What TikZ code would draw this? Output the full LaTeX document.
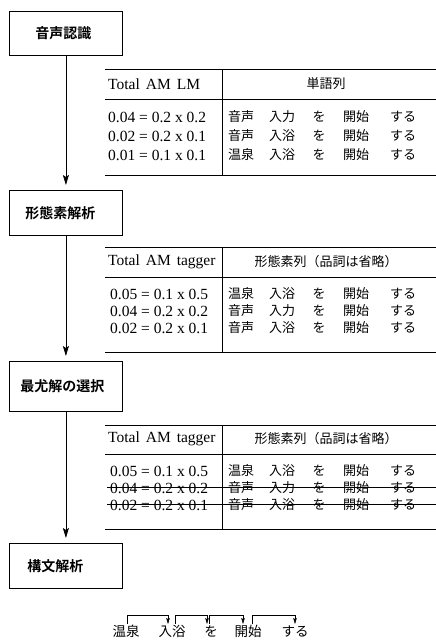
\documentclass[tikz,border=0pt]{standalone}
\usepackage{fontspec}
\setmainfont{Liberation Serif}
\newfontfamily\jp{Noto Sans CJK JP}
\newfontfamily\jpb{Noto Sans CJK JP Bold}
\usetikzlibrary{arrows.meta}
\newcommand\wrow[7]{%
  \node[jpt] (#1a) at (241,#2) {#3};
  \node[jpt] (#1b) at (282,#2) {#4};
  \node[jpt] (#1c) at (319,#2) {#5};
  \node[jpt] (#1d) at (356,#2) {#6};
  \node[jpt] (#1e) at (403,#2) {#7};}
\begin{document}
\begin{tikzpicture}[x=1pt,y=-1pt,
  box/.style={draw, line width=0.8pt, minimum width=113pt, align=left, anchor=north west,
    font=\jpb\fontsize{14}{16}\selectfont, inner ysep=0pt},
  flow/.style={line width=0.7pt, -{Stealth[length=10pt,width=6pt,inset=2pt]}},
  rule/.style={line width=0.7pt},
  strike/.style={line width=0.6pt},
  lat/.style={anchor=west, inner sep=0pt, font=\fontsize{15.5}{17}\selectfont},
  jpt/.style={inner sep=0pt, font=\jp\fontsize{13}{15}\selectfont, text height=11pt, text depth=2pt},
  jpw/.style={inner sep=0pt, font=\jp\fontsize{13.5}{15}\selectfont, text height=11pt, text depth=2.5pt},
  dep/.style={line width=0.5pt, -{Stealth[length=6pt,width=3.5pt,inset=1pt]}}
]
\useasboundingbox (0,0) rectangle (436,642);
\fill[white] (0,0) rectangle (436,642);

% boxes
\node[box, minimum height=44pt, inner xsep=26pt, text width=61pt] (b1) at (9,11) {音声認識};
\node[box, minimum height=45pt, inner xsep=16pt, text width=81pt] (b2) at (9,190) {形態素解析};
\node[box, minimum height=50pt, inner xsep=11pt, text width=91pt] (b3) at (9,361) {最尤解の選択};
\node[box, minimum height=45pt, inner xsep=18pt, text width=77pt] (b4) at (9,543) {構文解析};

\draw[flow] (b1.south) -- ([yshift=5pt]b2.north);
\draw[flow] (b2.south) -- ([yshift=5pt]b3.north);
\draw[flow] (b3.south) -- ([yshift=5pt]b4.north);

% table 1
\draw[rule] (105,69) -- (436,69);
\draw[rule] (105,99) -- (436,99);
\draw[rule] (105,175) -- (436,175);
\draw[rule] (222,69) -- (222,175);
\node[lat] (t1h) at (108,84) {Total\hspace{6pt}AM\hspace{6pt}LM};
\node[jpt] (t1w) at (326,84) {単語列};
\node[lat] (t1r1) at (108,117) {0.04 = 0.2 x 0.2};
\node[lat] (t1r2) at (108,136) {0.02 = 0.2 x 0.1};
\node[lat] (t1r3) at (108,155) {0.01 = 0.1 x 0.1};
\wrow{t1p}{117}{音声}{入力}{を}{開始}{する}
\wrow{t1q}{136}{音声}{入浴}{を}{開始}{する}
\wrow{t1s}{155}{温泉}{入浴}{を}{開始}{する}

% table 2
\draw[rule] (105,247) -- (436,247);
\draw[rule] (105,277) -- (436,277);
\draw[rule] (105,352) -- (436,352);
\draw[rule] (222,247) -- (222,352);
\node[lat] (t2h) at (108,262) {Total\hspace{6pt}AM\hspace{6pt}tagger};
\node[jpt] (t2w) at (326,262) {形態素列（品詞は省略）};
\node[lat] (t2r1) at (110,294) {0.05 = 0.1 x 0.5};
\node[lat] (t2r2) at (110,311) {0.04 = 0.2 x 0.2};
\node[lat] (t2r3) at (110,328) {0.02 = 0.2 x 0.1};
\wrow{t2p}{294}{温泉}{入浴}{を}{開始}{する}
\wrow{t2q}{311}{音声}{入力}{を}{開始}{する}
\wrow{t2s}{328}{音声}{入浴}{を}{開始}{する}

% table 3
\draw[rule] (105,425) -- (436,425);
\draw[rule] (105,454) -- (436,454);
\draw[rule] (105,529) -- (436,529);
\draw[rule] (222,425) -- (222,529);
\node[lat] (t3h) at (108,439) {Total\hspace{6pt}AM\hspace{6pt}tagger};
\node[jpt] (t3w) at (326,439) {形態素列（品詞は省略）};
\node[lat] (t3r1) at (110,471) {0.05 = 0.1 x 0.5};
\node[lat] (t3r2) at (110,488) {0.04 = 0.2 x 0.2};
\node[lat] (t3r3) at (110,505) {0.02 = 0.2 x 0.1};
\wrow{t3p}{471}{温泉}{入浴}{を}{開始}{する}
\wrow{t3q}{488}{音声}{入力}{を}{開始}{する}
\wrow{t3s}{505}{音声}{入浴}{を}{開始}{する}
\draw[strike] (107,487) -- (436,487);
\draw[strike] (107,504) -- (436,504);

% dependency
\node[jpw] (d1) at (126,632) {温泉};
\node[jpw] (d2) at (172,632) {入浴};
\node[jpw] (d3) at (211,632) {を};
\node[jpw] (d4) at (248,632) {開始};
\node[jpw] (d5) at (295,632) {する};
\draw[dep] ([xshift=1pt,yshift=1pt]d1.north) -- ++(0,-9) -| ([xshift=-4pt,yshift=1pt]d2.north);
\draw[dep] ([xshift=3pt,yshift=1pt]d2.north) -- ++(0,-9) -| ([xshift=-4pt,yshift=1pt]d3.north);
\draw[dep] ([xshift=-2pt,yshift=1pt]d3.north) -- ++(0,-9) -| ([xshift=-5pt,yshift=1pt]d4.north);
\draw[dep] ([xshift=4pt,yshift=1pt]d4.north) -- ++(0,-9) -| ([yshift=1pt]d5.north);
\end{tikzpicture}
\end{document}
